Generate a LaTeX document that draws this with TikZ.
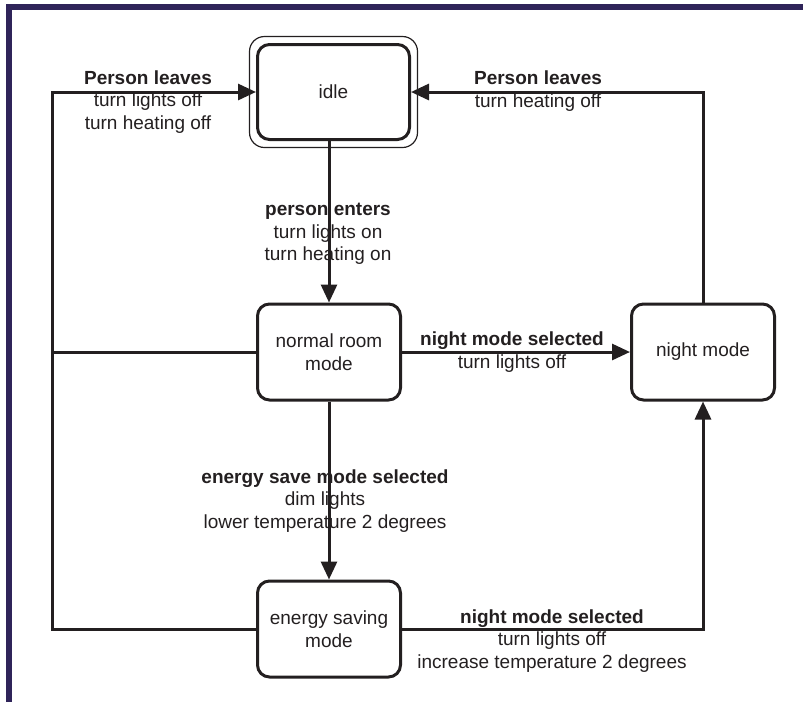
\documentclass[tikz,border=0pt]{standalone}
\usepackage{fontspec}
\setmainfont{Liberation Sans}
\usetikzlibrary{arrows.meta}

\newlength{\du}
\setlength{\du}{1pt}

\definecolor{dialinecolor}{rgb}{0.137255, 0.121569, 0.125490}
\definecolor{framecolor}{rgb}{0.184314, 0.141176, 0.349020}

\tikzset{
  state/.style={draw=dialinecolor, line width=3\du, rounded corners=12\du,
    minimum width=143\du, minimum height=96\du, align=center, inner sep=0pt,
    text=dialinecolor, font=\fontsize{19}{22.5}\selectfont},
  trans/.style={draw=dialinecolor, line width=3\du,
    -{Triangle[length=18pt,width=16pt]}},
  wire/.style={draw=dialinecolor, line width=3\du},
  tlabel/.style={align=center, inner sep=0pt, text=dialinecolor,
    font=\fontsize{19}{22.5}\selectfont},
}

\begin{document}
\begin{tikzpicture}
\pgftransformxscale{1.000000}
\pgftransformyscale{-1.000000}
\useasboundingbox (0\du,0\du) rectangle (803\du,702\du);
% page frame
\fill[framecolor] (6\du,4\du) rectangle (803\du,9.5\du);
\fill[framecolor] (6\du,4\du) rectangle (11.5\du,702\du);
% states
\node[state, minimum width=152\du, minimum height=95\du] (idle) at (333.5\du,92\du) {idle};
\node[draw=dialinecolor, line width=1.2\du, rounded corners=15\du, minimum width=168\du, minimum height=111\du] (idleframe) at (333.5\du,92\du) {};
\node[state] (normal) at (329\du,352\du) {normal room\\mode};
\node[state] (night) at (703\du,352\du) {night mode};
\node[state] (energy) at (329\du,629\du) {energy saving\\mode};
\coordinate (ltop) at (52\du,92\du);
% transitions
\draw[trans] (idle.south -| normal.north) -- (normal.north);
\draw[trans] (normal.east) -- (night.west);
\draw[trans] (normal.south) -- (energy.north);
\draw[trans] (energy.east) -| (night.south);
\draw[trans] (night.north) |- (idle.east);
\draw[wire] (normal.west) -- (normal.west -| ltop);
\draw[trans] (energy.west) -| (ltop) -- (idle.west);
% labels
\node[tlabel] (lblleave) at (148\du,102\du) {\textbf{Person leaves}\\turn lights off\\turn heating off};
\node[tlabel] (lblleavenight) at (538\du,91\du) {\textbf{Person leaves}\\turn heating off};
\node[tlabel] (lblenter) at (328\du,234\du) {\textbf{person enters}\\turn lights on\\turn heating on};
\node[tlabel] (lblnight) at (512\du,352\du) {\textbf{night mode selected}\\turn lights off};
\node[tlabel] (lblsave) at (325\du,501\du) {\textbf{energy save mode selected}\\dim lights\\lower temperature 2 degrees};
\node[tlabel] (lblnightsave) at (552\du,641\du) {\textbf{night mode selected}\\turn lights off\\increase temperature 2 degrees};
\end{tikzpicture}
\end{document}
